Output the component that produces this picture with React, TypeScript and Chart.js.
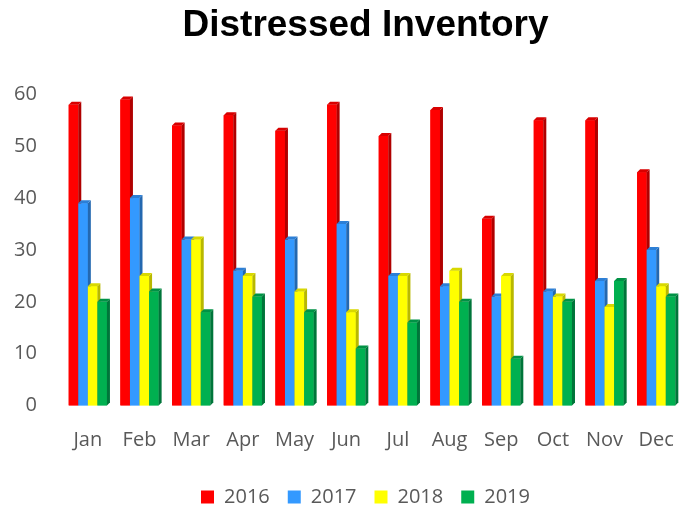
import React, { useEffect, useRef } from "react";
import { Chart, registerables } from "chart.js";

Chart.register(...registerables);

const months = ["Jan", "Feb", "Mar", "Apr", "May", "Jun", "Jul", "Aug", "Sep", "Oct", "Nov", "Dec"];
const seriesLabels = ["2016", "2017", "2018", "2019"];
const values2016 = [58, 59, 54, 56, 53, 58, 52, 57, 36, 55, 55, 45];
const values2017 = [39, 40, 32, 26, 32, 35, 25, 23, 21, 22, 24, 30];
const values2018 = [23, 25, 32, 25, 22, 18, 25, 26, 25, 21, 19, 23];
const values2019 = [20, 22, 18, 21, 18, 11, 16, 20, 9, 20, 24, 21];
const yMin = 0;
const yMax = 60;
const yStep = 10;

const frontColors = ["#FF0000", "#3399FF", "#FFFF00", "#00B050"];
const sideColors = ["#B00000", "#2468B0", "#B8B800", "#00753A"];
const topColors = ["#D80000", "#2C7FD6", "#D8D800", "#009245"];

const TEXT = "#595959";
const FONT = "'Open Sans', 'Noto Sans', sans-serif";

const bar3d = {
  id: "bar3d",
  afterDatasetsDraw(chart: any) {
    const ctx = chart.ctx;
    const d = 3;
    ctx.save();
    chart.data.datasets.forEach((_ds: any, i: number) => {
      const meta = chart.getDatasetMeta(i);
      meta.data.forEach((el: any) => {
        const { x, y, base, width } = el.getProps(["x", "y", "base", "width"], true);
        const l = x - width / 2;
        const r = x + width / 2;
        ctx.fillStyle = frontColors[i];
        ctx.fillRect(l, y, width, base - y);
        ctx.fillStyle = sideColors[i];
        ctx.beginPath();
        ctx.moveTo(r, y);
        ctx.lineTo(r + d, y - d);
        ctx.lineTo(r + d, base - d);
        ctx.lineTo(r, base);
        ctx.closePath();
        ctx.fill();
        ctx.fillStyle = topColors[i];
        ctx.beginPath();
        ctx.moveTo(l, y);
        ctx.lineTo(l + d, y - d);
        ctx.lineTo(r + d, y - d);
        ctx.lineTo(r, y);
        ctx.closePath();
        ctx.fill();
      });
    });
    ctx.restore();
  },
};

export default function App() {
  const ref = useRef<HTMLCanvasElement | null>(null);

  useEffect(() => {
    if (!ref.current) return;
    const allValues = [values2016, values2017, values2018, values2019];
    const chart = new Chart(ref.current, {
      type: "bar",
      data: {
        labels: months,
        datasets: allValues.map((vals, i) => ({
          label: seriesLabels[i],
          data: vals,
          backgroundColor: frontColors[i],
          borderWidth: 0,
          categoryPercentage: 0.74,
          barPercentage: 1.0,
        })),
      },
      options: {
        animation: false,
        responsive: false,
        devicePixelRatio: 1,
        layout: { padding: { top: 0, left: 37, right: 3, bottom: -11 } },
        plugins: {
          title: {
            display: true,
            text: "Distressed Inventory",
            color: "#000000",
            font: { family: "'Liberation Sans', Arial, sans-serif", size: 37, weight: "bold" },
            padding: { top: 4, bottom: 46 },
          },
          legend: {
            position: "bottom",
            labels: {
              boxWidth: 13,
              boxHeight: 13,
              padding: 18,
              color: TEXT,
              font: { family: FONT, size: 20 },
            },
          },
          tooltip: { enabled: false },
        },
        scales: {
          x: {
            grid: { display: false, drawTicks: false },
            border: { display: false },
            ticks: { color: TEXT, font: { family: FONT, size: 20 }, padding: 23 },
            afterFit: (scale: any) => {
              scale.height = 63.5;
            },
          },
          y: {
            min: yMin,
            max: yMax,
            grid: { display: false, drawTicks: false },
            border: { display: false },
            ticks: {
              stepSize: yStep,
              color: TEXT,
              font: { family: FONT, size: 20 },
              mirror: true,
              crossAlign: "far",
              padding: -48,
            },
            afterFit: (scale: any) => {
              scale.width = 25;
            },
          },
        },
      },
      plugins: [bar3d],
    });
    return () => chart.destroy();
  }, []);

  return (
    <div style={{ position: "fixed", left: 0, top: 0, width: 697, height: 506, background: "#fff" }}>
      <canvas ref={ref} width={697} height={506} />
    </div>
  );
}
